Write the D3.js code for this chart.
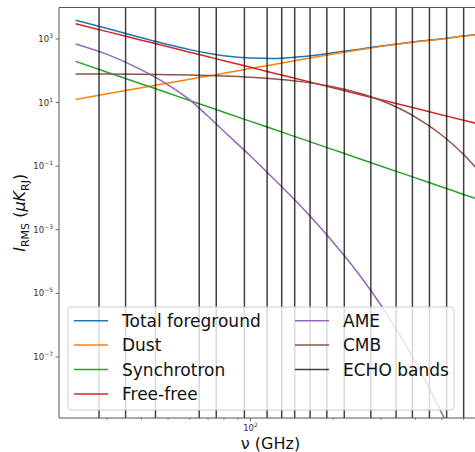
<!DOCTYPE html>
<html><head><meta charset="utf-8">
<script src="https://cdn.jsdelivr.net/npm/d3@7"></script>
<style>
body{margin:0;background:#fff}
svg{display:block}
text{font-family:"DejaVu Sans","Liberation Sans",sans-serif}
</style>
</head><body>
<svg id="chart" width="475" height="452"></svg>
<script>
// Frequencies (GHz) at which each RMS component is sampled
const freqs = [23, 30, 40, 50, 60, 70, 80, 100, 120, 150, 200, 250, 300, 400, 500, 600, 700];

// RMS brightness per component (μK_RJ)
const totalForeground = [3914, 2139, 1093, 666, 463, 357, 297, 250, 243, 274, 367, 479, 597, 824, 1011, 1246, 1439];
const dust            = [12.5, 18.9, 29.4, 41.3, 54.4, 68.6, 84.1, 118, 155, 219, 338, 461, 585, 817, 1007, 1243, 1437];
const synchrotron     = [198, 90.2, 38.5, 19.9, 11.6, 7.38, 4.97, 2.57, 1.50, 0.776, 0.332, 0.172, 0.100, 0.0429, 0.0222, 0.0129, 0.0082];
const freeFree        = [3006, 1702, 918, 569, 385, 277, 207, 129, 87.0, 53.9, 29.1, 18.0, 12.2, 6.59, 4.08, 2.76, 1.99];
const ame             = [697, 328, 107, 36.3, 12.2, 3.71, 1.25, 0.209, 0.0448, 6.48e-3, 4.13e-4, 3.79e-5, 4.16e-6, 6.97e-8, 1.65e-9, 6.2e-11, 2.96e-12];
const cmb             = [79.3, 78.6, 77.1, 75.3, 73.2, 70.8, 68.2, 62.5, 56.1, 46.4, 31.4, 19.6, 11.6, 3.50, 0.94, 0.233, 0.054];

// ECHO band centre frequencies (GHz)
const echoBands = [28, 35, 45, 65, 75, 95, 115, 130, 145, 165, 190, 220, 275, 340, 390, 450, 520, 600];

// Axis ticks
const yTickExponents = [3, 1, -1, -3, -5, -7];
const xMajorTicks = [100];
const xMajorLabels = [["10", "2"]];
const xMinorTicks = [30, 40, 50, 60, 70, 80, 90, 200, 300, 400, 500, 600];

const seriesNames  = ["Total foreground", "Dust", "Synchrotron", "Free-free", "AME", "CMB"];
const seriesValues = [totalForeground, dust, synchrotron, freeFree, ame, cmb];
const seriesColors = ["#1f77b4", "#ff7f0e", "#2ca02c", "#d62728", "#9467bd", "#8c564b"];
const echoLabel = "ECHO bands";

const plot = {left: 59, right: 482, top: 7.5, bottom: 418};

const svg = d3.select("#chart");

const x = d3.scaleLog().domain([20, 700]).range([plot.left, plot.right]);
const y = d3.scaleLog().domain([Math.pow(10, -8.92), Math.pow(10, 3.99)]).range([plot.bottom, plot.top]);

svg.append("defs").append("clipPath").attr("id", "plotClip")
  .append("rect")
  .attr("x", plot.left).attr("y", plot.top)
  .attr("width", plot.right - plot.left).attr("height", plot.bottom - plot.top);

const plotArea = svg.append("g").attr("clip-path", "url(#plotClip)");

const line = d3.line()
  .x(d => x(d[0]))
  .y(d => y(d[1]))
  .curve(d3.curveMonotoneX);

seriesValues.forEach((vals, i) => {
  plotArea.append("path")
    .datum(freqs.map((f, j) => [f, vals[j]]))
    .attr("fill", "none")
    .attr("stroke", seriesColors[i])
    .attr("stroke-width", 1.5)
    .attr("d", line);
});

// ECHO band markers spanning the full height
plotArea.selectAll("line.echo")
  .data(echoBands)
  .enter().append("line")
  .attr("class", "echo")
  .attr("x1", d => x(d)).attr("x2", d => x(d))
  .attr("y1", plot.top).attr("y2", plot.bottom)
  .attr("stroke", "#000")
  .attr("stroke-opacity", 0.75)
  .attr("stroke-width", 1.5);

// Spines
const spine = svg.append("g").attr("stroke", "#555").attr("stroke-width", 1).attr("fill", "none");
spine.append("line").attr("x1", plot.left).attr("x2", plot.left).attr("y1", plot.top).attr("y2", plot.bottom);
spine.append("line").attr("x1", plot.left).attr("x2", plot.right).attr("y1", plot.top).attr("y2", plot.top);
spine.append("line").attr("x1", plot.left).attr("x2", plot.right).attr("y1", plot.bottom).attr("y2", plot.bottom);
spine.append("line").attr("x1", plot.right).attr("x2", plot.right).attr("y1", plot.top).attr("y2", plot.bottom);

// Y ticks with power-of-ten labels
const yTicks = svg.append("g");
yTickExponents.forEach(e => {
  const yy = y(Math.pow(10, e));
  yTicks.append("line")
    .attr("x1", plot.left - 3.5).attr("x2", plot.left)
    .attr("y1", yy).attr("y2", yy)
    .attr("stroke", "#444").attr("stroke-width", 0.8);
  const t = yTicks.append("text")
    .attr("x", plot.left - 6).attr("y", yy + 3)
    .attr("text-anchor", "end")
    .attr("font-size", 8.5).attr("fill", "#333");
  t.append("tspan").text("10");
  t.append("tspan").attr("font-size", 6).attr("dy", -4).text(e < 0 ? "\u2212" + (-e) : String(e));
});

// X ticks
const xTicks = svg.append("g");
xMinorTicks.forEach(v => {
  xTicks.append("line")
    .attr("x1", x(v)).attr("x2", x(v))
    .attr("y1", plot.bottom).attr("y2", plot.bottom + 2)
    .attr("stroke", "#444").attr("stroke-width", 0.6);
});
xMajorTicks.forEach((v, i) => {
  xTicks.append("line")
    .attr("x1", x(v)).attr("x2", x(v))
    .attr("y1", plot.bottom).attr("y2", plot.bottom + 3.5)
    .attr("stroke", "#444").attr("stroke-width", 0.8);
  const t = xTicks.append("text")
    .attr("x", x(v)).attr("y", 431)
    .attr("text-anchor", "middle")
    .attr("font-size", 8.5).attr("fill", "#333");
  t.append("tspan").text(xMajorLabels[i][0]);
  t.append("tspan").attr("font-size", 6).attr("dy", -4).text(xMajorLabels[i][1]);
});

// Axis titles
svg.append("text")
  .attr("x", (plot.left + plot.right) / 2).attr("y", 449)
  .attr("text-anchor", "middle")
  .attr("font-size", 16).attr("fill", "#111")
  .text("\u03bd (GHz)");

const yTitle = svg.append("text")
  .attr("font-size", 16).attr("fill", "#111");
yTitle.append("tspan").attr("font-style", "italic").text("I");
yTitle.append("tspan").attr("font-size", 11).attr("dy", 4).text("RMS");
yTitle.append("tspan").attr("dy", -4).text(" (");
yTitle.append("tspan").attr("font-style", "italic").text("\u03bcK");
yTitle.append("tspan").attr("font-size", 11).attr("dy", 4).text("RJ");
yTitle.append("tspan").attr("dy", -4).text(")");
// centre the title on the plot height using its measured length
const titleLen = yTitle.node().getComputedTextLength();
yTitle.attr("transform", `translate(25, ${(plot.top + plot.bottom) / 2 + titleLen / 2}) rotate(-90)`);

// Legend
const legend = svg.append("g");
legend.append("rect")
  .attr("x", 68).attr("y", 307).attr("width", 386).attr("height", 103)
  .attr("rx", 3)
  .attr("fill", "#fff").attr("fill-opacity", 0.8)
  .attr("stroke", "#ccc").attr("stroke-width", 1);

const legendItems = seriesNames.map((n, i) => ({name: n, color: seriesColors[i], opacity: 1}))
  .concat([{name: echoLabel, color: "#000", opacity: 0.75}]);
const rowY = [320.7, 345, 369.5, 394];
legendItems.forEach((d, i) => {
  const col = i < 4 ? 0 : 1;
  const row = i < 4 ? i : i - 4;
  const hx = col === 0 ? 74 : 295;
  const yy = rowY[row];
  legend.append("line")
    .attr("x1", hx).attr("x2", hx + 34)
    .attr("y1", yy).attr("y2", yy)
    .attr("stroke", d.color).attr("stroke-opacity", d.opacity)
    .attr("stroke-width", 1.5);
  legend.append("text")
    .attr("x", hx + 48).attr("y", yy + 6)
    .attr("font-size", 17).attr("fill", "#111")
    .text(d.name);
});
</script>
</body></html>
